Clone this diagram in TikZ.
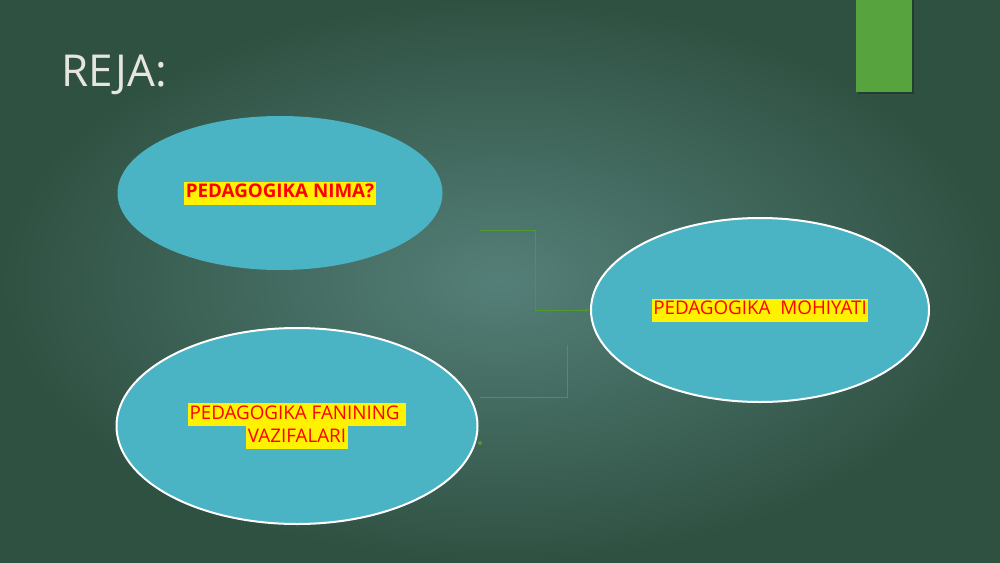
\documentclass[tikz,border=0pt]{standalone}
\usepackage{fontspec}
\setmainfont{Open Sans}
\usetikzlibrary{shapes.geometric,arrows.meta}
\definecolor{bgIn}{HTML}{547F78}
\definecolor{bgOut}{HTML}{2F5142}
\definecolor{barGreen}{HTML}{57A43F}
\definecolor{tealFill}{HTML}{4BB4C4}
\definecolor{lineGreen}{HTML}{4E9A2E}
\definecolor{titleGray}{HTML}{E6E6DF}
\setlength{\fboxsep}{0pt}
\newcommand{\hl}[1]{\colorbox{yellow}{\strut\hspace{1.5pt}#1\hspace{1.5pt}}}
\begin{document}
\begin{tikzpicture}[x=1pt,y=-1pt]
        \useasboundingbox (0,0) rectangle (1000,562);
        \shade[inner color=bgIn, outer color=bgOut] (0,0) rectangle (1000,562);
        \fill[black,opacity=0.25] (858,0) rectangle (914,94);
        \fill[barGreen] (856,0) rectangle (912,92);
        \node[anchor=base west, inner sep=0pt, text=titleGray,
              font=\fontsize{44}{50}\selectfont] (title) at (61,86) {REJA:};
        \begin{scope}[every node/.style={ellipse,fill=tealFill,inner sep=0pt,align=center,
                text=red,font=\fontsize{18.8}{23}\selectfont}]
            \node (nima) at (280,193) [minimum width=325, minimum height=154] {\hl{\bfseries PEDAGOGIKA NIMA?}};
            \node (mohiyat) at (760,310) [draw=white, line width=2pt, minimum width=338, minimum height=184] {\hl{PEDAGOGIKA\ \ MOHIYATI}};
            \node (vazifa) at (297,426) [draw=white, line width=2pt, minimum width=361, minimum height=196] {\hl{PEDAGOGIKA FANINING }\\\hl{VAZIFALARI}};
        \end{scope}
        \coordinate (c1) at (480,230);
        \coordinate (c2) at (480,397);
        \coordinate (c2end) at (567,345);
        \begin{scope}[every path/.style={draw=lineGreen,line width=0.8pt}]
            \draw[-{Stealth[length=5pt,width=4pt]}] (c1) -- ++(55,0) |- (mohiyat.west);
            \draw (c2) -| (c2end);
        \end{scope}
        \fill[lineGreen] (480,443) circle (2);
    \end{tikzpicture}
\end{document}
